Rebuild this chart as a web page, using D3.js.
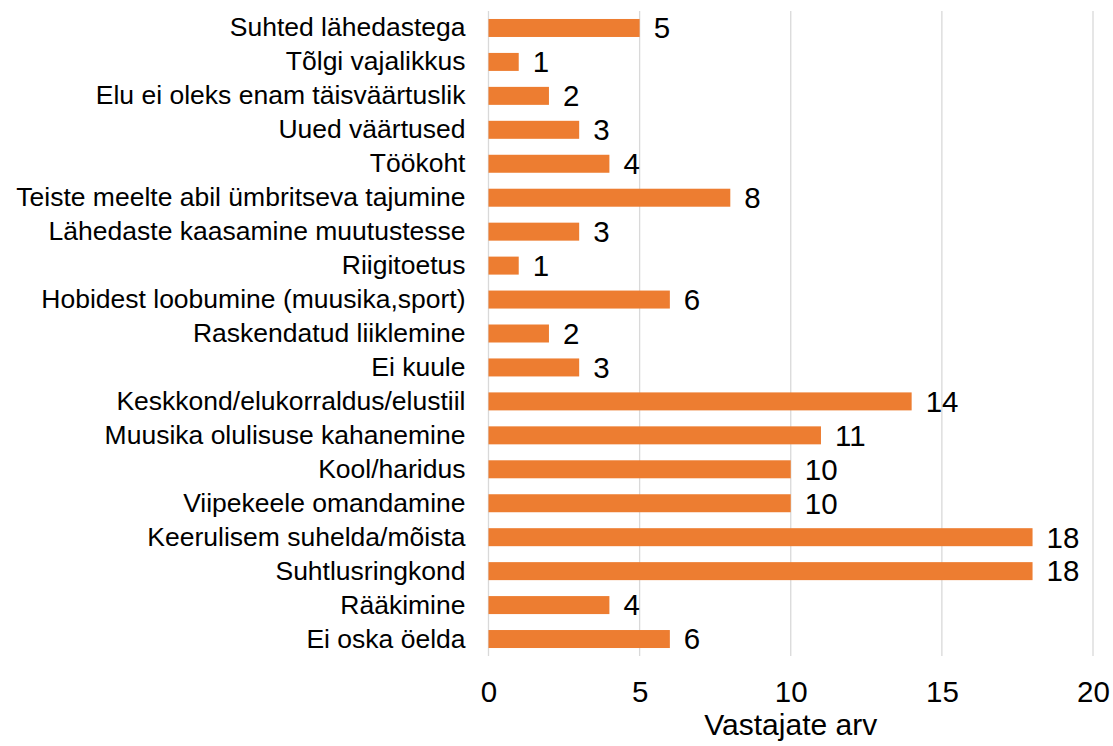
<!DOCTYPE html>
<html>
<head>
<meta charset="utf-8">
<script src="https://cdn.jsdelivr.net/npm/d3@7"></script>
<style>
  html, body { margin: 0; padding: 0; background: #fff; }
  #chart { width: 1113px; height: 746px; }
  svg { display: block; font-family: "Liberation Sans", Arial, sans-serif; }
</style>
</head>
<body>
<div id="chart"></div>
<script>
const categories = [
  "Suhted lähedastega",
  "Tõlgi vajalikkus",
  "Elu ei oleks enam täisväärtuslik",
  "Uued väärtused",
  "Töökoht",
  "Teiste meelte abil ümbritseva tajumine",
  "Lähedaste kaasamine muutustesse",
  "Riigitoetus",
  "Hobidest loobumine (muusika,sport)",
  "Raskendatud liiklemine",
  "Ei kuule",
  "Keskkond/elukorraldus/elustiil",
  "Muusika olulisuse kahanemine",
  "Kool/haridus",
  "Viipekeele omandamine",
  "Keerulisem suhelda/mõista",
  "Suhtlusringkond",
  "Rääkimine",
  "Ei oska öelda",
];
const values = [5, 1, 2, 3, 4, 8, 3, 1, 6, 2, 3, 14, 11, 10, 10, 18, 18, 4, 6];
const xTicks = [0, 5, 10, 15, 20];
const xTitle = "Vastajate arv";

class VisBarChart {
  constructor(el) {
    this.el = el;
    this.init();
  }

  init() {
    this.setup();
    this.scaffold();
    this.render();
  }

  setup() {
    this.width = 1113;
    this.height = 746;
    this.marginTop = 11;
    this.marginRight = 20;
    this.marginBottom = 90;
    this.marginLeft = 488.5;
    this.fontSize = 26.5;
    this.numFontSize = 29.5;

    this.x = d3
      .scaleLinear()
      .domain([0, 20])
      .range([this.marginLeft, this.width - this.marginRight]);
    this.y = d3
      .scaleBand()
      .domain(categories)
      .range([this.marginTop, this.height - this.marginBottom])
      .paddingInner(0.47)
      .paddingOuter(0.235);
  }

  scaffold() {
    this.svg = d3
      .select(this.el)
      .append("svg")
      .attr("width", this.width)
      .attr("height", this.height)
      .style("font-size", this.fontSize + "px");
    this.gGrid = this.svg.append("g").attr("class", "grid-g");
    this.gBars = this.svg.append("g").attr("class", "bars-g");
    this.gValues = this.svg
      .append("g")
      .attr("class", "values-g")
      .style("font-size", this.numFontSize + "px");
    this.gY = this.svg.append("g").attr("class", "y-axis-g");
    this.gX = this.svg.append("g").attr("class", "x-axis-g");
  }

  render() {
    const data = categories.map((c, i) => ({ label: c, value: values[i] }));
    const [y0, y1] = this.y.range();

    this.gGrid
      .selectAll("line")
      .data(xTicks)
      .join("line")
      .attr("x1", (d) => this.x(d))
      .attr("x2", (d) => this.x(d))
      .attr("y1", y0)
      .attr("y2", y1)
      .attr("stroke", "#D9D9D9")
      .attr("stroke-width", 1.3);

    this.gBars
      .selectAll("rect")
      .data(data)
      .join("rect")
      .attr("x", this.x(0))
      .attr("y", (d) => this.y(d.label))
      .attr("width", (d) => this.x(d.value) - this.x(0))
      .attr("height", this.y.bandwidth())
      .attr("fill", "#ED7D31");

    this.gValues
      .selectAll("text")
      .data(data)
      .join("text")
      .attr("x", (d) => this.x(d.value) + 14)
      .attr("y", (d) => this.y(d.label) + this.y.bandwidth() / 2)
      .attr("dy", "0.35em")
      .attr("fill", "#000")
      .text((d) => d.value);

    // category axis, drawn without line and ticks
    this.gY
      .attr("transform", `translate(${this.marginLeft - 23},0)`)
      .call(d3.axisLeft(this.y).tickSize(0).tickPadding(0))
      .call((g) => g.select(".domain").remove())
      .call((g) => g.selectAll("text").attr("fill", "#000"));
    this.gY.attr("font-family", null).attr("font-size", null);

    this.gX
      .attr("transform", `translate(0,${y1})`)
      .call(
        d3
          .axisBottom(this.x)
          .tickValues(xTicks)
          .tickSize(0)
          .tickPadding(25)
      )
      .call((g) => g.select(".domain").remove())
      .call((g) => g.selectAll("text").attr("fill", "#000"));
    this.gX
      .attr("font-family", null)
      .attr("font-size", null)
      .style("font-size", this.numFontSize + "px");

    this.svg
      .append("text")
      .attr("x", (this.x.range()[0] + this.x.range()[1]) / 2)
      .attr("y", 735)
      .attr("text-anchor", "middle")
      .attr("fill", "#000")
      .style("font-size", "30px")
      .text(xTitle);
  }
}

new VisBarChart(document.getElementById("chart"));
</script>
</body>
</html>
